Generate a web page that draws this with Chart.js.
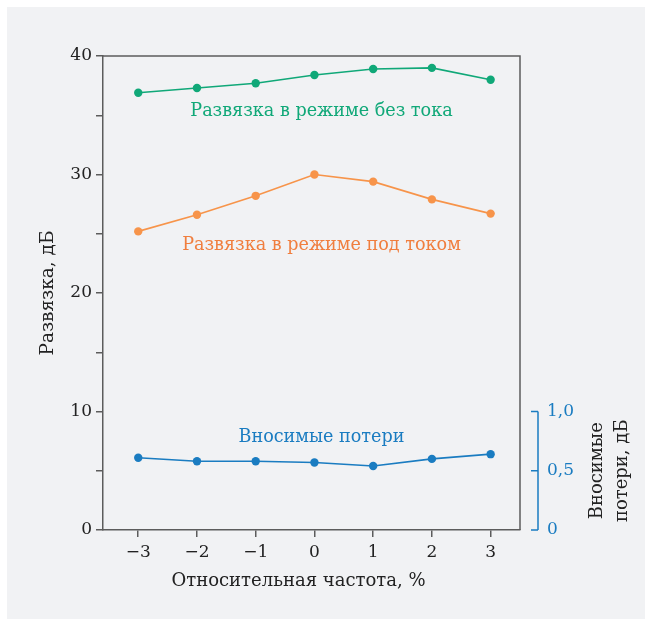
<!DOCTYPE html>
<html>
<head>
<meta charset="utf-8">
<script src="https://cdn.jsdelivr.net/npm/chart.js@4.4.1/dist/chart.umd.min.js"></script>
<style>
  html, body { margin: 0; background: #fff; }
  #fon { position: absolute; left: 7px; top: 7px; width: 638px; height: 612px; background: #f1f2f4; }
  canvas { position: absolute; left: 0; top: 0; }
</style>
</head>
<body>
<div id="fon"></div>
<canvas id="grafik" width="652" height="626"></canvas>
<script>
// данные
const chastota = [-3, -2, -1, 0, 1, 2, 3];
const bezToka = [36.9, 37.3, 37.7, 38.4, 38.9, 39.0, 38.0];
const podTokom = [25.2, 26.6, 28.2, 30.0, 29.4, 27.9, 26.7];
const poteri = [0.61, 0.58, 0.58, 0.57, 0.54, 0.60, 0.64];

const xTiki = [-3, -2, -1, 0, 1, 2, 3];
const yTiki = [0, 5, 10, 15, 20, 25, 30, 35, 40];
const yPodpisi = ["0", "", "10", "", "20", "", "30", "", "40"];
const poteriTiki = [0, 0.5, 1];
const poteriPodpisi = ["0", "0,5", "1,0"];

const ZELENY = "#10a878";
const ORANZH = "#f7944a";
const SINY = "#1a7cc1";
const SERY = "#5c5c5c";
const SHRIFT = "'DejaVu Serif', serif";

const tochki = (ys) => chastota.map((x, i) => ({ x: x, y: ys[i] }));

// надписи у кривых: [текст, x, y, ось, цвет]
const nadpisi = [
  ["Развязка в режиме без тока", 0.12, 35.3, "y", ZELENY],
  ["Развязка в режиме под током", 0.12, 24.0, "y", "#f07e3e"],
  ["Вносимые потери", 0.12, 0.78, "y2", SINY]
];

const dorisovka = {
  id: "dorisovka",
  beforeDatasetsDraw(chart) {
    const ctx = chart.ctx;
    const a = chart.chartArea;
    ctx.save();
    // верхняя и правая рамка
    ctx.strokeStyle = SERY;
    ctx.lineWidth = 1.5;
    ctx.beginPath();
    ctx.moveTo(a.left, a.top);
    ctx.lineTo(a.right, a.top);
    ctx.lineTo(a.right, a.bottom);
    ctx.stroke();

    // правая ось вносимых потерь
    const y2 = chart.scales.y2;
    const xo = a.right + 18;
    ctx.strokeStyle = SINY;
    ctx.beginPath();
    ctx.moveTo(xo, y2.getPixelForValue(poteriTiki[0]));
    ctx.lineTo(xo, y2.getPixelForValue(poteriTiki[poteriTiki.length - 1]));
    poteriTiki.forEach(v => {
      const py = y2.getPixelForValue(v);
      ctx.moveTo(xo - 7, py);
      ctx.lineTo(xo, py);
    });
    ctx.stroke();

    // подпись оси X (смещена влево, как в оригинале)
    ctx.fillStyle = "#222";
    ctx.font = "18px " + SHRIFT;
    ctx.textAlign = "center";
    ctx.textBaseline = "middle";
    ctx.fillText("Относительная частота, %", (a.left + a.right) / 2 - 13, a.bottom + 51);

    // заголовок правой оси
    const yc = (y2.getPixelForValue(0) + y2.getPixelForValue(1)) / 2;
    ctx.translate(a.right + 77, yc);
    ctx.rotate(-Math.PI / 2);
    ctx.fillText("Вносимые", 0, 0);
    ctx.fillText("потери, дБ", 0, 25);
    ctx.restore();

    // надписи у кривых
    ctx.save();
    ctx.font = "17.6px " + SHRIFT;
    ctx.textAlign = "center";
    ctx.textBaseline = "middle";
    nadpisi.forEach(n => {
      ctx.fillStyle = n[4];
      ctx.fillText(n[0], chart.scales.x.getPixelForValue(n[1]), chart.scales[n[3]].getPixelForValue(n[2]));
    });
    ctx.restore();
  }
};

const seria = (label, ys, color, os) => ({
  label: label,
  data: tochki(ys),
  yAxisID: os,
  borderColor: color,
  backgroundColor: color,
  borderWidth: 1.6,
  pointRadius: 4.2,
  pointHoverRadius: 4.2,
  pointBorderWidth: 0,
  tension: 0
});

new Chart(document.getElementById("grafik"), {
  type: "line",
  data: {
    datasets: [
      seria("Развязка в режиме без тока", bezToka, ZELENY, "y"),
      seria("Развязка в режиме под током", podTokom, ORANZH, "y"),
      seria("Вносимые потери", poteri, SINY, "y2")
    ]
  },
  options: {
    responsive: false,
    animation: false,
    layout: { padding: { left: 37, top: 56, right: 72, bottom: 35 } },
    plugins: {
      legend: { display: false },
      tooltip: { enabled: false }
    },
    scales: {
      x: {
        type: "linear",
        min: -3.6,
        max: 3.5,
        afterBuildTicks: ax => { ax.ticks = xTiki.map(v => ({ value: v })); },
        afterFit: ax => { ax.height = 61; },
        ticks: {
          callback: v => String(v).replace("-", "\u2212"),
          color: "#222",
          font: { family: SHRIFT, size: 17 },
          padding: 5,
          maxRotation: 0
        },
        grid: { drawOnChartArea: false, color: SERY, tickLength: 7, lineWidth: 1.5 },
        border: { color: SERY, width: 1.5 },
        title: { display: false }
      },
      y: {
        min: 0,
        max: 40,
        afterBuildTicks: ax => { ax.ticks = yTiki.map(v => ({ value: v })); },
        afterFit: ax => { ax.width = 66; },
        ticks: {
          callback: (v, i) => yPodpisi[i],
          color: "#222",
          font: { family: SHRIFT, size: 17 },
          padding: 4
        },
        grid: { drawOnChartArea: false, color: SERY, tickLength: 7, lineWidth: 1.5 },
        border: { color: SERY, width: 1.5 },
        title: {
          display: true,
          text: "Развязка, дБ",
          color: "#222",
          font: { family: SHRIFT, size: 18.5 },
          padding: 0
        }
      },
      y2: {
        position: "right",
        min: 0,
        max: 4,
        afterBuildTicks: ax => { ax.ticks = poteriTiki.map(v => ({ value: v })); },
        afterFit: ax => { ax.width = 60; },
        ticks: {
          callback: (v, i) => poteriPodpisi[i],
          color: SINY,
          font: { family: SHRIFT, size: 17 },
          padding: 9
        },
        grid: { drawOnChartArea: false, color: "rgba(0,0,0,0)", tickLength: 18 },
        border: { display: false }
      }
    }
  },
  plugins: [dorisovka]
});
</script>
</body>
</html>
